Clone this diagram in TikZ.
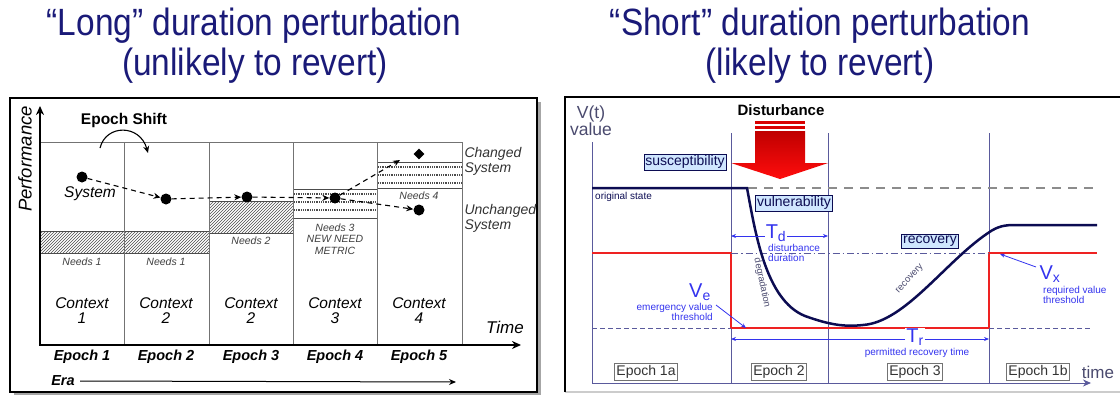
\documentclass[tikz,border=0pt]{standalone}
\usepackage{fontspec}
\setmainfont{Liberation Sans}
\newfontfamily\narrowfont[FakeStretch=0.88]{Liberation Sans}
\usetikzlibrary{patterns,arrows.meta,shapes.geometric,calc}
\definecolor{titleblue}{HTML}{1A1A78}
\definecolor{navy}{HTML}{0C0C52}
\definecolor{axisblue}{HTML}{5A5A9C}
\definecolor{lblue}{HTML}{3333EE}
\definecolor{boxfill}{HTML}{CFE6FF}
\definecolor{vred}{HTML}{EE2222}
\definecolor{vtext}{HTML}{4A4A6E}
\tikzset{
  ttl/.style={font=\narrowfont\fontsize{38}{40}\selectfont, text=titleblue, anchor=base},
  lbl/.style={font=\itshape\fontsize{15.5}{15}\selectfont, align=center},
  needs/.style={font=\itshape\fontsize{10.5}{11.5}\selectfont, text=black!75, align=center},
  eplbl/.style={font=\bfseries\itshape\fontsize{14.5}{15}\selectfont},
  sysdot/.style={circle, fill=black, inner sep=0pt, minimum size=11pt},
  sysarrow/.style={line width=1.1pt, dash pattern=on 5pt off 4pt, -{Stealth[length=7pt,width=6pt]}},
  hatchbar/.style={draw=black!70, fill=black!15, pattern=north east lines, pattern color=black!70},
  bluebox/.style={draw=navy, fill=boxfill, font=\fontsize{14}{14}\selectfont, text=navy, inner sep=1.5pt},
  epbox/.style={draw=black!55, fill=white, font=\fontsize{14}{14}\selectfont, text=black!80, inner sep=2pt},
  small/.style={font=\fontsize{10}{10.5}\selectfont, text=lblue, align=left},
  bigsym/.style={font=\fontsize{20}{20}\selectfont, text=lblue, inner sep=1pt},
  grid/.style={draw=black!55, line width=0.9pt},
  vline/.style={draw=axisblue, line width=1pt},
  bluearrow/.style={lblue, line width=0.8pt, -{Stealth[length=5pt,width=4pt]}},
}
\begin{document}
\begin{tikzpicture}[x=1pt,y=-1pt]
\useasboundingbox (0,0) rectangle (1120,394);
% Titles
\node[ttl] (t1) at (254,35) {“Long” duration perturbation};
\node[ttl] (t2) at (255,75) {(unlikely to revert)};
\node[ttl] (t3) at (820,35) {“Short” duration perturbation};
\node[ttl] (t4) at (820,75) {(likely to revert)};

% ================= LEFT PANEL =================
\fill[black!35] (14,102) rectangle (541,396);
\draw[line width=2.5pt, fill=white] (10,98) rectangle (537,392);

% hatched bars
\path[hatchbar] (40,231) rectangle (209,253);
\path[hatchbar] (209,201) rectangle (293,233);
\draw[black!70, fill=white] (293,189) rectangle (377,218);
\foreach \yy in {194,202,210} {\draw[black!70, line width=2pt, dash pattern=on 1pt off 0.8pt] (294,\yy) -- (376,\yy);}
\draw[black!70, fill=white] (377,162) rectangle (462,188);
\foreach \yy in {167,175,183} {\draw[black!70, line width=2pt, dash pattern=on 1pt off 0.8pt] (378,\yy) -- (461,\yy);}

% grid
\draw[grid] (40,142) -- (462,142);
\foreach \xx in {124,209,293,377,462} {\draw[grid] (\xx,142) -- (\xx,345);}

% axes
\coordinate (yb) at (40,345);
\coordinate (yt) at (40,106);
\coordinate (xr) at (521,345);
\draw[line width=2pt, -{Stealth[length=9pt,width=8pt]}] (yb) -- (yt);
\draw[line width=2pt, -{Stealth[length=9pt,width=8pt]}] ($(yb)+(-1,0)$) -- (xr);
\node[font=\itshape\fontsize{18.5}{19}\selectfont, rotate=90] (perf) at (25,159) {Performance};
\node[font=\itshape\fontsize{17}{17}\selectfont] (time) at (505,327) {Time};

% epoch shift
\node[font=\bfseries\fontsize{15.5}{16}\selectfont] (eshift) at (124,120) {Epoch Shift};
\coordinate (es1) at (100,148);
\coordinate (es2) at (148,153);
\draw[line width=1.1pt, -{Stealth[length=7pt,width=6pt]}] (es1) .. controls (106,124) and (140,124) .. (es2);

% system dots
\node[sysdot] (d1) at (82,177) {};
\node[sysdot] (d2) at (166,199) {};
\node[sysdot] (d3) at (247,197) {};
\node[sysdot] (d4) at (335,198) {};
\node[sysdot] (d5) at (419,210) {};
\node[diamond, fill=black, inner sep=0pt, minimum size=11pt] (d6) at (419,154) {};
\node[lbl] (sys) at (90,194) {System};
\draw[sysarrow] (d1) -- (d2);
\draw[sysarrow] (d2) -- (d3);
\draw[sysarrow] (d3) -- (d4);
\draw[sysarrow] (d4) -- (d5);
\coordinate (chg) at (400,160);
\draw[sysarrow] (d4) -- (chg);

% right labels
\node[lbl, align=left, anchor=west, text=black!80, font=\itshape\fontsize{14}{15}\selectfont] (chs) at (461,161) {Changed\\System};
\node[lbl, align=left, anchor=west, text=black!80, font=\itshape\fontsize{14}{15}\selectfont] (uns) at (461,218) {Unchanged\\System};

% needs
\node[needs] (n1) at (82,262) {Needs 1};
\node[needs] (n1b) at (166,262) {Needs 1};
\node[needs] (n2) at (251,241) {Needs 2};
\node[needs] (n3) at (335,239) {Needs 3\\NEW NEED\\METRIC};
\node[needs] (n4) at (419,196) {Needs 4};

% contexts
\node[lbl] (c1) at (82,311) {Context\\1};
\node[lbl] (c2) at (166,311) {Context\\2};
\node[lbl] (c3) at (251,311) {Context\\2};
\node[lbl] (c4) at (335,311) {Context\\3};
\node[lbl] (c5) at (419,311) {Context\\4};

% epochs
\node[eplbl] (e1) at (82,357) {Epoch 1};
\node[eplbl] (e2) at (166,357) {Epoch 2};
\node[eplbl] (e3) at (251,357) {Epoch 3};
\node[eplbl] (e4) at (335,357) {Epoch 4};
\node[eplbl] (e5) at (419,357) {Epoch 5};
\node[eplbl] (era) at (63,381) {Era};
\coordinate (eraend) at (456,382);
\draw[line width=1pt, -{Stealth[length=7pt,width=6pt,open]}] (era.east) ++(2,0) -- (eraend);

% ================= RIGHT PANEL =================
\draw[black!20, line width=2pt] (565,392) -- (1122,392);
\draw[line width=2.5pt] (565,392) -- (565,97) -- (1122,97);

\node[font=\fontsize{17.5}{16}\selectfont, text=vtext, align=center] (vt) at (591,121) {V(t)\\value};

% vertical lines
\coordinate (ax0) at (592,142);
\coordinate (ax1) at (592,383);
\coordinate (ax2) at (1091,383);
\draw[vline] (ax0) -- (ax1);
\draw[vline, -{Stealth[length=8pt,width=7pt]}] (ax1) -- (ax2);
\node[font=\fontsize{17}{17}\selectfont, text=vtext] (tm) at (1098,372) {time};
\draw[vline] (731,133) -- (731,383);
\draw[vline] (828,133) -- (828,383);
\draw[vline] (989,133) -- (989,383);

% grey dashed line
\draw[black!45, line width=2.2pt, dash pattern=on 9pt off 7pt] (748,188) -- (1097,188);

% red threshold lines
\draw[vred, line width=1.2pt] (592,253) -- (731,253) -- (731,328) -- (989,328) -- (989,253) -- (1097,253);
\draw[axisblue, line width=1pt, dash pattern=on 7pt off 3pt on 1.5pt off 3pt] (731,253) -- (989,253);
\draw[axisblue, line width=1pt, dash pattern=on 5pt off 3pt] (592,328) -- (731,328);
\draw[axisblue, line width=1pt, dash pattern=on 5pt off 3pt] (989,328) -- (1090,328);

% disturbance arrow
\node[font=\bfseries\fontsize{15}{15}\selectfont] (dist) at (781,110) {Disturbance};
\fill[red!85!black] (755,121) rectangle (805,123.5);
\fill[red!85!black] (755,126) rectangle (805,128.5);
\shade[top color=red!75!black, bottom color=red!95!white]
  (755,131) -- (805,131) -- (805,163) -- (828,163) -- (780,179) -- (731,163) -- (755,163) -- cycle;

% value curve
\draw[navy, line width=2.5pt] (592,188) -- (747,188)
  .. controls (755,230) and (765,300) .. (805,316)
  .. controls (830,325) and (845,327) .. (863,325)
  .. controls (905,322) and (945,262) .. (988,233)
  .. controls (998,226) and (1005,225) .. (1015,225) -- (1097,225);
\node[font=\fontsize{10}{10}\selectfont, text=navy, anchor=west, inner sep=0pt] (orig) at (595,197) {original state};

% label boxes
\node[bluebox] (susc) at (685,162) {susceptibility};
\node[bluebox] (vuln) at (794,203) {vulnerability};
\node[bluebox] (reco) at (930,241) {recovery};
\node[font=\fontsize{9.5}{9.5}\selectfont, text=vtext, rotate=-78] (degr) at (762,283) {degradation};
\node[font=\fontsize{9.5}{9.5}\selectfont, text=vtext, rotate=48] (reco2) at (910,279) {recovery};

% T_d
\node[bigsym, fill=white] (td) at (776,233) {T\textsubscript{d}};
\coordinate (td0) at (731,236);
\coordinate (td1) at (828,236);
\draw[bluearrow] (td.west|-td0) -- (td0);
\draw[bluearrow] (td.east|-td1) -- (td1);
\node[small, anchor=north west, inner sep=0pt] (tdd) at (768,244) {disturbance\\duration};

% T_r
\node[bigsym, fill=white] (tr) at (915,337) {T\textsubscript{r}};
\coordinate (tr0) at (731,339);
\coordinate (tr1) at (989,339);
\draw[bluearrow] (tr.west|-tr0) -- (tr0);
\draw[bluearrow] (tr.east|-tr1) -- (tr1);
\node[small] (trd) at (917,353) {permitted recovery time};

% V_e
\node[bigsym] (ve) at (700,292) {V\textsubscript{e}};
\node[small, align=right, anchor=north east, inner sep=0pt] (ved) at (713,303) {emergency value\\threshold};
\coordinate (vetip) at (746,328);
\draw[bluearrow] (716,305) -- (vetip);

% V_x
\node[bigsym] (vx) at (1050,274) {V\textsubscript{x}};
\node[small, anchor=north west, inner sep=0pt] (vxd) at (1043,286) {required value\\threshold};
\coordinate (vxtip) at (1000,254);
\draw[bluearrow] (1036,267) -- (vxtip);

% epoch boxes
\node[epbox] (ea) at (646,372) {Epoch 1a};
\node[epbox] (eb) at (779,372) {Epoch 2};
\node[epbox] (ec) at (915,372) {Epoch 3};
\node[epbox] (ed) at (1038,372) {Epoch 1b};
\end{tikzpicture}
\end{document}
